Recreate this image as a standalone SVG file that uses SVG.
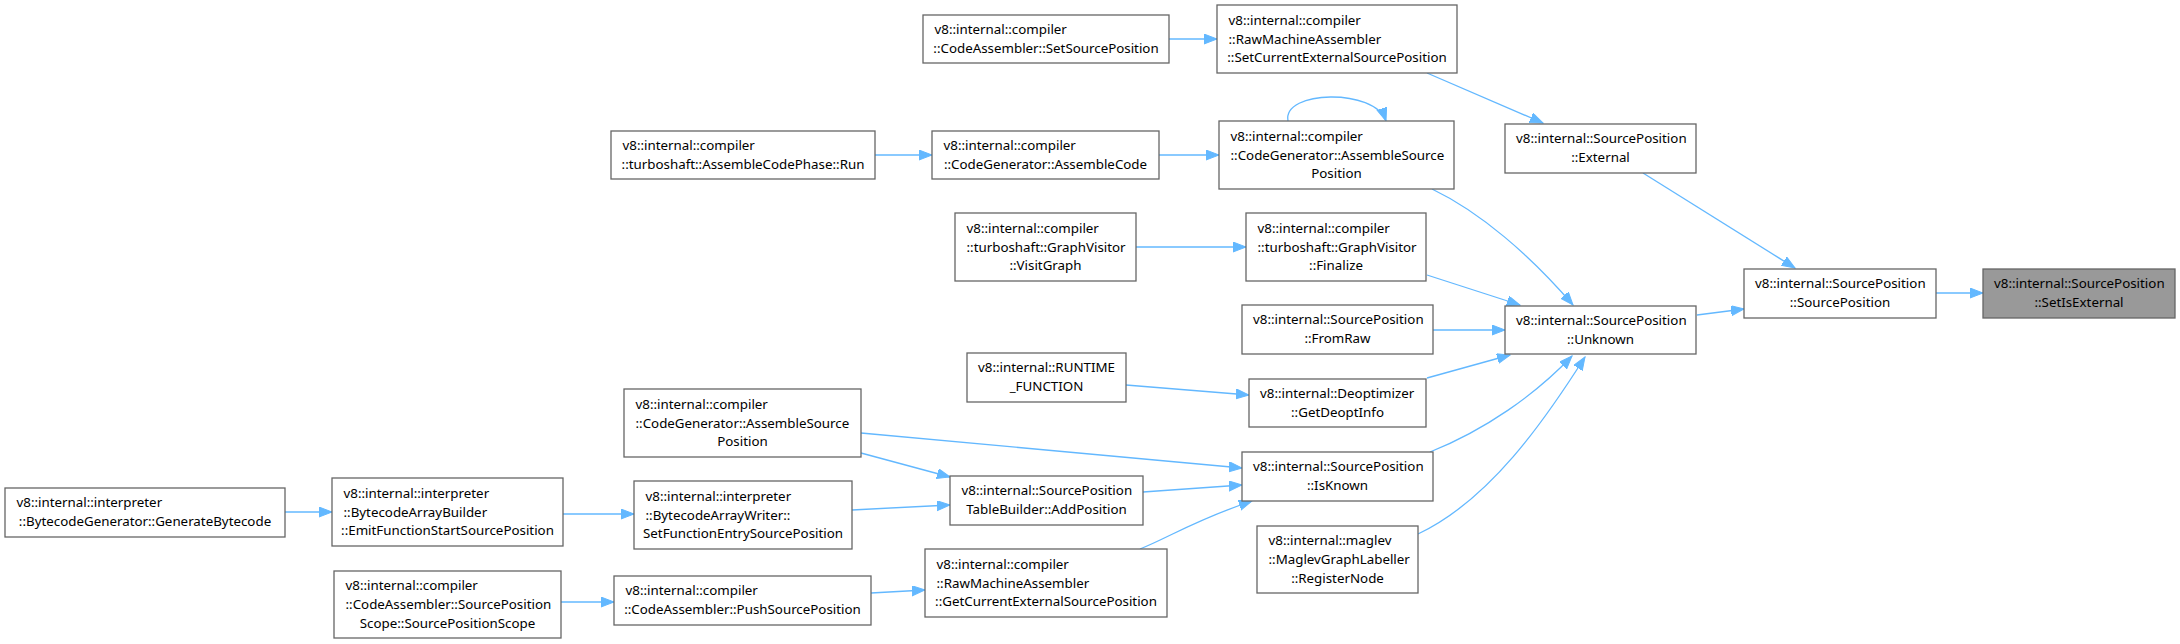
<svg xmlns="http://www.w3.org/2000/svg" width="2180" height="644" viewBox="0 0 2180 644">
<style>
.nd rect{fill:#ffffff;stroke:#666666;stroke-width:1.3}
.nd.hl rect{fill:#999999;stroke:#666666}
.nd text{font-family:"Noto Sans","DejaVu Sans",sans-serif;font-size:13.33px;fill:#000000}
.nd text.c{text-anchor:middle}
#edges path{fill:none;stroke:#63b8ff;stroke-width:1.3;marker-end:url(#ah)}
</style>
<defs>
<marker id="ah" markerUnits="userSpaceOnUse" markerWidth="14" markerHeight="11" refX="13" refY="5" orient="auto">
<path d="M0,0 L13,5 L0,10 z" fill="#63b8ff" stroke="#63b8ff" stroke-width="1"/>
</marker>
</defs>
<rect width="2180" height="644" fill="#ffffff"/>
<g id="edges">
<path d="M1169,39 L1217,39"/>
<path d="M1427,73 L1543,123"/>
<path d="M1643,173 L1795,268"/>
<path d="M875,155 L932,155"/>
<path d="M1159,155 L1219,155"/>
<path d="M1288,121 C1282,90 1375,88 1386,121"/>
<path d="M1432,189 C1480,212 1530,255 1573,305"/>
<path d="M1136,247 L1246,247"/>
<path d="M1427,275 L1520,305"/>
<path d="M1433,330 L1505,330"/>
<path d="M1697,315 L1744,309"/>
<path d="M1936,293 L1983,293"/>
<path d="M1126,385 L1249,395"/>
<path d="M1427,378 L1510,355"/>
<path d="M861,433 L1242,468"/>
<path d="M861,453 L950,477"/>
<path d="M1430,452 C1485,430 1535,395 1572,356"/>
<path d="M1143,492 L1242,485"/>
<path d="M852,510 L950,505"/>
<path d="M563,514 L634,514"/>
<path d="M285,512 L332,512"/>
<path d="M1418,534 C1490,500 1545,420 1585,357"/>
<path d="M1140,549 C1170,537 1195,520 1252,501"/>
<path d="M871,593 L925,590"/>
<path d="M561,602 L614,602"/>
</g>
<g id="n1" class="nd"><rect x="923" y="15" width="246" height="48"/><text x="934.5" y="33.8">v8::internal::compiler</text><text class="c" x="1046" y="52.5">::CodeAssembler::SetSourcePosition</text></g>
<g id="n2" class="nd"><rect x="1217" y="5" width="240" height="68"/><text x="1228.5" y="24.8">v8::internal::compiler</text><text x="1228.5" y="43.5">::RawMachineAssembler</text><text class="c" x="1337" y="62.2">::SetCurrentExternalSourcePosition</text></g>
<g id="n3" class="nd"><rect x="1505" y="124" width="191" height="49"/><text x="1516" y="143.3">v8::internal::SourcePosition</text><text class="c" x="1600.5" y="162">::External</text></g>
<g id="n4" class="nd"><rect x="611" y="131" width="264" height="48"/><text x="622.5" y="149.8">v8::internal::compiler</text><text class="c" x="743" y="168.5">::turboshaft::AssembleCodePhase::Run</text></g>
<g id="n5" class="nd"><rect x="932" y="131" width="227" height="48"/><text x="943.5" y="149.8">v8::internal::compiler</text><text class="c" x="1045.5" y="168.5">::CodeGenerator::AssembleCode</text></g>
<g id="n6" class="nd"><rect x="1219" y="121" width="235" height="68"/><text x="1230.5" y="140.8">v8::internal::compiler</text><text x="1230.5" y="159.5">::CodeGenerator::AssembleSource</text><text class="c" x="1336.5" y="178.2">Position</text></g>
<g id="n7" class="nd"><rect x="955" y="213" width="181" height="68"/><text x="966.5" y="232.8">v8::internal::compiler</text><text x="966.5" y="251.5">::turboshaft::GraphVisitor</text><text class="c" x="1045.5" y="270.2">::VisitGraph</text></g>
<g id="n8" class="nd"><rect x="1246" y="213" width="180" height="68"/><text x="1257.5" y="232.8">v8::internal::compiler</text><text x="1257.5" y="251.5">::turboshaft::GraphVisitor</text><text class="c" x="1336" y="270.2">::Finalize</text></g>
<g id="n9" class="nd"><rect x="1242" y="305" width="191" height="49"/><text x="1253" y="324.3">v8::internal::SourcePosition</text><text class="c" x="1337.5" y="343">::FromRaw</text></g>
<g id="n10" class="nd"><rect x="1505" y="306" width="191" height="48"/><text x="1516" y="324.8">v8::internal::SourcePosition</text><text class="c" x="1600.5" y="343.5">::Unknown</text></g>
<g id="n11" class="nd"><rect x="1744" y="269" width="192" height="49"/><text x="1755" y="288.3">v8::internal::SourcePosition</text><text class="c" x="1840" y="307">::SourcePosition</text></g>
<g id="n12" class="nd hl"><rect x="1983" y="269" width="192" height="49"/><text x="1994" y="288.3">v8::internal::SourcePosition</text><text class="c" x="2079" y="307">::SetIsExternal</text></g>
<g id="n13" class="nd"><rect x="967" y="353" width="159" height="49"/><text x="978" y="372.3">v8::internal::RUNTIME</text><text class="c" x="1046.5" y="391">_FUNCTION</text></g>
<g id="n14" class="nd"><rect x="1249" y="379" width="177" height="48"/><text x="1260" y="397.8">v8::internal::Deoptimizer</text><text class="c" x="1337.5" y="416.5">::GetDeoptInfo</text></g>
<g id="n15" class="nd"><rect x="624" y="389" width="237" height="68"/><text x="635.5" y="408.8">v8::internal::compiler</text><text x="635.5" y="427.5">::CodeGenerator::AssembleSource</text><text class="c" x="742.5" y="446.2">Position</text></g>
<g id="n16" class="nd"><rect x="1242" y="452" width="191" height="49"/><text x="1253" y="471.3">v8::internal::SourcePosition</text><text class="c" x="1337.5" y="490">::IsKnown</text></g>
<g id="n17" class="nd"><rect x="950" y="476" width="193" height="49"/><text x="961.5" y="495.3">v8::internal::SourcePosition</text><text class="c" x="1046.5" y="514">TableBuilder::AddPosition</text></g>
<g id="n18" class="nd"><rect x="634" y="481" width="218" height="68"/><text x="645.5" y="500.8">v8::internal::interpreter</text><text x="645.5" y="519.5">::BytecodeArrayWriter::</text><text class="c" x="743" y="538.2">SetFunctionEntrySourcePosition</text></g>
<g id="n19" class="nd"><rect x="332" y="478" width="231" height="68"/><text x="343.5" y="497.8">v8::internal::interpreter</text><text x="343.5" y="516.5">::BytecodeArrayBuilder</text><text class="c" x="447.5" y="535.2">::EmitFunctionStartSourcePosition</text></g>
<g id="n20" class="nd"><rect x="5" y="488" width="280" height="49"/><text x="16.5" y="507.3">v8::internal::interpreter</text><text class="c" x="145" y="526">::BytecodeGenerator::GenerateBytecode</text></g>
<g id="n21" class="nd"><rect x="1257" y="526" width="161" height="67"/><text x="1268.5" y="545.3">v8::internal::maglev</text><text x="1268.5" y="564">::MaglevGraphLabeller</text><text class="c" x="1337.5" y="582.7">::RegisterNode</text></g>
<g id="n22" class="nd"><rect x="925" y="549" width="242" height="68"/><text x="936.5" y="568.8">v8::internal::compiler</text><text x="936.5" y="587.5">::RawMachineAssembler</text><text class="c" x="1046" y="606.2">::GetCurrentExternalSourcePosition</text></g>
<g id="n23" class="nd"><rect x="614" y="576" width="257" height="49"/><text x="625.5" y="595.3">v8::internal::compiler</text><text class="c" x="742.5" y="614">::CodeAssembler::PushSourcePosition</text></g>
<g id="n24" class="nd"><rect x="334" y="571" width="227" height="67"/><text x="345.5" y="590.3">v8::internal::compiler</text><text x="345.5" y="609">::CodeAssembler::SourcePosition</text><text class="c" x="447.5" y="627.7">Scope::SourcePositionScope</text></g>
</svg>
